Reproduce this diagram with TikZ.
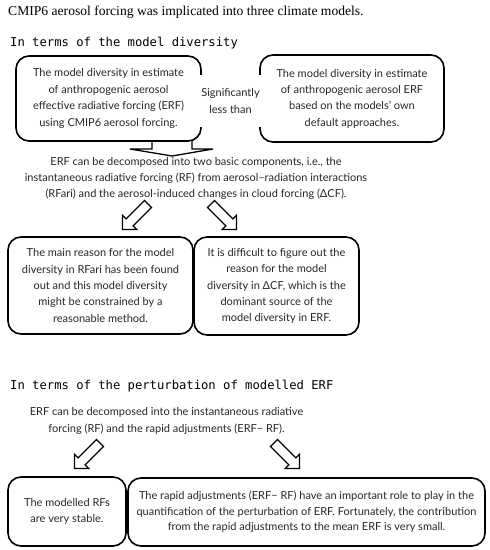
\documentclass[tikz,border=0pt]{standalone}
\usepackage{fontspec}
\setmainfont{Lato}
\newfontfamily\ttlfont{Liberation Serif}
\newfontfamily\hdfont{DejaVu Sans Mono}
\newcommand\bxfont{\fontsize{11}{16.4}\selectfont}
\begin{document}
\begin{tikzpicture}[x=1pt,y=1pt,
  box/.style={draw, line width=1.6pt, rounded corners=13pt, align=center, inner sep=0pt, font=\bxfont, text=black!85},
  plain/.style={align=center, inner sep=0pt, font=\bxfont, text=black!85},
  heading/.style={anchor=west, inner sep=0pt, font=\hdfont\fontsize{12.2}{14}\selectfont},
  blk/.style={line width=1.3pt, line join=miter},
  darrow/.pic={\draw[blk] (0,-5) -- (26,-5) -- (26,-10) -- (36,0) -- (26,10) -- (26,5) -- (0,5) -- cycle;}
]
\useasboundingbox (0,0) rectangle (490,-550);

\node[anchor=west, inner sep=0pt, font=\ttlfont\fontsize{13.6}{16}\selectfont] (title) at (8,-12) {CMIP6 aerosol forcing was implicated into three climate models.};

\node[heading] (h1) at (10,-43) {In terms of the model diversity};

\node[box, minimum width=185pt, minimum height=85pt] (b1) at (108.5,-98.5) {The model diversity in estimate\\of anthropogenic aerosol\\effective radiative forcing (ERF)\\using CMIP6 aerosol forcing.};
\node[box, minimum width=184pt, minimum height=87pt] (b2) at (352,-98.5) {The model diversity in estimate\\of anthropogenic aerosol ERF\\based on the models’ own\\default approaches.};
\node[plain, fill=white, minimum width=66pt, minimum height=52pt] (sig) at (230.5,-101) {Significantly\\less than};

% big block arrow from b1 down to text
\coordinate (da) at (152,-141);
\draw[blk] (da) -- ++(0,-8) -- ++(-22,0) -- ++(42,-7) -- ++(41,7) -- ++(-21,0) -- ++(0,8);

\node[plain] (t1) at (196,-178.5) {ERF can be decomposed into two basic components, i.e., the\\instantaneous radiative forcing (RF) from aerosol–radiation interactions\\(RFari) and the aerosol-induced changes in cloud forcing (ΔCF).};

\coordinate (a1) at (148,-204);
\coordinate (a2) at (211,-204);
\pic[rotate=225] at (a1) {darrow};
\pic[rotate=-45] at (a2) {darrow};

\node[box, minimum width=185pt, minimum height=97pt] (b3) at (100.5,-285.5) {The main reason for the model\\diversity in RFari has been found\\out and this model diversity\\might be constrained by a\\reasonable method.};
\node[box, minimum width=165pt, minimum height=98pt] (b4) at (276.5,-286) {It is difficult to figure out the\\reason for the model\\diversity in ΔCF, which is the\\dominant source of the\\model diversity in ERF.};

\node[heading] (h2) at (10,-386) {In terms of the perturbation of modelled ERF};

\node[plain] (t2) at (166.5,-421) {ERF can be decomposed into the instantaneous radiative\\forcing (RF) and the rapid adjustments (ERF− RF).};

\coordinate (a3) at (100,-443);
\coordinate (a4) at (274,-443);
\pic[rotate=225] at (a3) {darrow};
\pic[rotate=-45] at (a4) {darrow};

\node[box, minimum width=118pt, minimum height=69pt] (b5) at (67,-511.5) {The modelled RFs\\are very stable.};
\node[box, minimum width=357pt, minimum height=68pt, font=\fontsize{11}{15.6}\selectfont] (b6) at (306.5,-512) {The rapid adjustments (ERF− RF) have an important role to play in the\\quantification of the perturbation of ERF. Fortunately, the contribution\\from the rapid adjustments to the mean ERF is very small.};
\end{tikzpicture}
\end{document}
